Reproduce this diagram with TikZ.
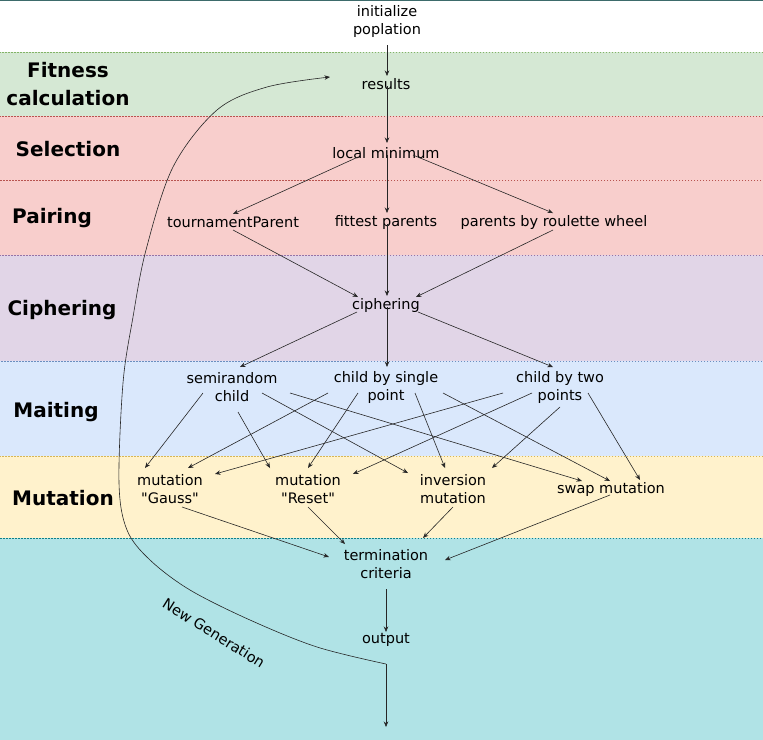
\documentclass[tikz,border=0pt]{standalone}
\usepackage{fontspec}
\setmainfont{DejaVu Sans}[Ligatures=TeXOff]
\usetikzlibrary{arrows.meta}
\definecolor{gfill}{HTML}{D5E8D4}\definecolor{gline}{HTML}{82B366}
\definecolor{rfill}{HTML}{F8CECC}\definecolor{rline}{HTML}{B85450}
\definecolor{pfill}{HTML}{E1D5E7}\definecolor{pline}{HTML}{9673A6}
\definecolor{bfill}{HTML}{DAE8FC}\definecolor{bline}{HTML}{6C8EBF}
\definecolor{yfill}{HTML}{FFF2CC}\definecolor{yline}{HTML}{D6B656}
\definecolor{cfill}{HTML}{B0E3E6}\definecolor{cline}{HTML}{0E8088}
\definecolor{topline}{HTML}{3D6B6B}
\begin{document}
\begin{tikzpicture}[x=1pt,y=-1pt,
  lbl/.style={font=\fontsize{14.5}{18}\selectfont, align=center, inner sep=0pt, text=black},
  bandlbl/.style={font=\bfseries\fontsize{20}{28}\selectfont, align=center, inner sep=0pt, text=black},
  bandbox/.style={line width=0.5pt, dash pattern=on 1.5pt off 1.5pt},
  conn/.style={draw=black!85, line width=0.6pt, -{Stealth[length=5.5pt,width=4.5pt]}}]
\useasboundingbox (0,0) rectangle (763,739);
% bands
\fill[white] (0,0) rectangle (763,52);
\draw[bandbox, draw=gline, fill=gfill] (-3,52) rectangle (766,116);
\draw[bandbox, draw=rline, fill=rfill] (-3,116) rectangle (766,180);
\draw[bandbox, draw=rline, fill=rfill] (-3,180) rectangle (766,255);
\draw[bandbox, draw=pline, fill=pfill] (-3,255) rectangle (766,361);
\draw[bandbox, draw=bline, fill=bfill] (-3,361) rectangle (766,456);
\draw[bandbox, draw=yline, fill=yfill] (-3,456) rectangle (766,538);
\draw[bandbox, draw=cline, fill=cfill] (-3,538) rectangle (766,742);
\draw[topline, line width=1.2pt] (0,0.8) -- (763,0.8);
% band labels
\node[bandlbl] (lfit) at (68,84) {Fitness\\calculation};
\node[bandlbl] (lsel) at (68,149) {Selection};
\node[bandlbl] (lpair) at (52,218) {Pairing};
\node[bandlbl] (lciph) at (62,310) {Ciphering};
\node[bandlbl] (lmait) at (56,412) {Maiting};
\node[bandlbl] (lmut) at (63,498) {Mutation};
% nodes
\node[lbl] (init) at (387,21) {initialize\\poplation};
\node[lbl] (results) at (386,84) {results};
\node[lbl] (locmin) at (386,153) {local minimum};
\node[lbl] (tourn) at (233,222) {tournamentParent};
\node[lbl] (fittest) at (386,222) {fittest parents};
\node[lbl] (roul) at (554,222) {parents by roulette wheel};
\node[lbl] (ciph) at (386,305) {ciphering};
\node[lbl] (semi) at (232,387) {semirandom\\child};
\node[lbl] (single) at (386,387) {child by single\\point};
\node[lbl] (two) at (560,387) {child by two\\points};
\node[lbl] (gauss) at (170,489) {mutation\\"Gauss"};
\node[lbl] (reset) at (308,489) {mutation\\"Reset"};
\node[lbl] (inv) at (453,489) {inversion\\mutation};
\node[lbl] (swap) at (611,489) {swap mutation};
\node[lbl] (term) at (386,564) {termination\\criteria};
\node[lbl] (output) at (386,640) {output};
\node[lbl, rotate=-32] (newgen) at (214,633) {New Generation};
% connectors
\draw[conn] ([shift={(0,24)}]init.center) -- ([shift={(1,-8)}]results.center);
\draw[conn] ([shift={(1,2)}]results.center) -- ([shift={(1,-10)}]locmin.center);
\draw[conn] ([shift={(-28,4)}]locmin.center) -- ([shift={(0,-8)}]tourn.center);
\draw[conn] ([shift={(1,2)}]locmin.center) -- ([shift={(1,-9)}]fittest.center);
\draw[conn] ([shift={(27,2)}]locmin.center) -- ([shift={(-1,-9)}]roul.center);
\draw[conn] ([shift={(0,8)}]tourn.center) -- ([shift={(-28,-8)}]ciph.center);
\draw[conn] ([shift={(1,2)}]fittest.center) -- ([shift={(1,-9)}]ciph.center);
\draw[conn] ([shift={(-1,8)}]roul.center) -- ([shift={(30,-8)}]ciph.center);
\draw[conn] ([shift={(-29,7)}]ciph.center) -- ([shift={(8,-20)}]semi.center);
\draw[conn] ([shift={(1,2)}]ciph.center) -- ([shift={(1,-20)}]single.center);
\draw[conn] ([shift={(32,7)}]ciph.center) -- ([shift={(-7,-20)}]two.center);
% mating to mutation
\draw[conn] ([shift={(-29,6)}]semi.center) -- ([shift={(-25,-21)}]gauss.center);
\draw[conn] ([shift={(6,25)}]semi.center) -- ([shift={(-38,-21)}]reset.center);
\draw[conn] ([shift={(30,6)}]semi.center) -- ([shift={(-45,-16)}]inv.center);
\draw[conn] ([shift={(58,6)}]semi.center) -- ([shift={(-29,-8)}]swap.center);
\draw[conn] ([shift={(-58,6)}]single.center) -- ([shift={(18,-21)}]gauss.center);
\draw[conn] ([shift={(-28,6)}]single.center) -- ([shift={(0,-21)}]reset.center);
\draw[conn] ([shift={(29,6)}]single.center) -- ([shift={(-8,-21)}]inv.center);
\draw[conn] ([shift={(57,6)}]single.center) -- ([shift={(-1,-8)}]swap.center);
\draw[conn] ([shift={(-57,6)}]two.center) -- ([shift={(45,-15)}]gauss.center);
\draw[conn] ([shift={(-28,6)}]two.center) -- ([shift={(45,-15)}]reset.center);
\draw[conn] ([shift={(0,20)}]two.center) -- ([shift={(39,-21)}]inv.center);
\draw[conn] ([shift={(28,6)}]two.center) -- ([shift={(29,-9)}]swap.center);
% mutation to termination
\draw[conn] ([shift={(12,18)}]gauss.center) -- ([shift={(-57,-7)}]term.center);
\draw[conn] ([shift={(0,18)}]reset.center) -- ([shift={(-41,-20)}]term.center);
\draw[conn] ([shift={(0,18)}]inv.center) -- ([shift={(37,-26)}]term.center);
\draw[conn] ([shift={(-1,6)}]swap.center) -- ([shift={(59,-4)}]term.center);
\draw[conn] ([shift={(0,25)}]term.center) -- ([shift={(0,-8)}]output.center);
% new generation loop
\coordinate (ngs) at (386,664);
\coordinate (ngend) at (386,727);
\draw[conn] (ngs) -- (ngend);
\draw[conn] plot[smooth, tension=0.55] coordinates {(ngs) (317,647) (250,620) (190,590) (150,560) (127,530) (119,483) (123,383) (133,317) (146,250) (173,167) (217,110) (267,87) ([shift={(-56,-7)}]results.center)};
\end{tikzpicture}
\end{document}
